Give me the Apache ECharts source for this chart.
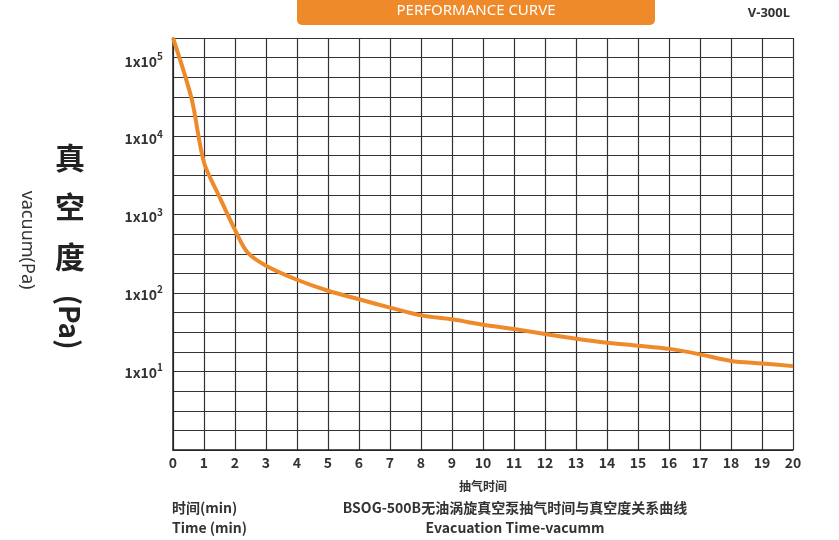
<!DOCTYPE html><html><head><meta charset="utf-8"><script src="https://cdn.jsdelivr.net/npm/echarts@6/dist/echarts.min.js"></script></head><body style="margin:0"><div id="c" style="width:839px;height:540px"></div><script>
const xs=[0,0.6,1,1.5,2,2.4,3,4,5,6,7,8,9,10,11,12,13,14,15,16,17,18,19,20];
const pa=[200000,33000,5000,1800,680,350,235,155,112,87,68,54,48,41,36,31,27,24,22,20,17,14,13,12];
const xTicks=[0,1,2,3,4,5,6,7,8,9,10,11,12,13,14,15,16,17,18,19,20];
const ch=echarts.init(document.getElementById('c'));
const f='"Noto Sans CJK SC",sans-serif';
ch.setOption({
 animation:false,
 grid:{left:173,right:46,top:38,bottom:90},
 xAxis:{type:'value',min:0,max:20,interval:1,axisLine:{lineStyle:{color:'#222',width:1.5}},axisTick:{show:false},
  axisLabel:{color:'#333',fontSize:14,fontWeight:'bold',fontFamily:f,margin:6},splitLine:{lineStyle:{color:'#333',width:1.2}}},
 yAxis:[{type:'log',min:1,max:200000,logBase:10,axisLine:{lineStyle:{color:'#222',width:1.5}},axisTick:{show:false},
  axisLabel:{showMaxLabel:false,fontFamily:f,fontSize:14,fontWeight:'bold',color:'#333',margin:10,
   formatter:v=>{const e=Math.round(Math.log10(v));return (e>=1&&e<=5&&v<150000)?'1x10{s|'+e+'}':'';},
   rich:{s:{fontSize:10,verticalAlign:'top',padding:[0,0,10,0],color:'#333',fontFamily:f}}},
  splitLine:{show:false}},
  {type:'value',min:0,max:21,interval:1,position:'left',axisLabel:{show:false},axisLine:{show:false},axisTick:{show:false},splitLine:{lineStyle:{color:'#333',width:1.2}}}],
 series:[{type:'line',data:xs.map((x,i)=>[x,pa[i]]),yAxisIndex:0,showSymbol:false,smooth:0.3,lineStyle:{color:'#ef8a2a',width:4}}],
 graphic:[
  {type:'rect',shape:{x:297,y:-6,width:358,height:31,r:5},style:{fill:'#ef8a2a'}},
  {type:'text',x:476,y:11,style:{text:'PERFORMANCE CURVE',fill:'#fff',font:'15px "Noto Sans",sans-serif',align:'center',verticalAlign:'middle'}},
  {type:'text',x:790,y:13,style:{text:'V-300L',fill:'#333',font:'bold 13px "Noto Sans",sans-serif',align:'right',verticalAlign:'middle'}},
  {type:'text',x:70,y:158,style:{text:'真',fill:'#222',font:'bold 30px '+f,align:'center',verticalAlign:'middle'}},
  {type:'text',x:70,y:207,style:{text:'空',fill:'#222',font:'bold 30px '+f,align:'center',verticalAlign:'middle'}},
  {type:'text',x:70,y:257,style:{text:'度',fill:'#222',font:'bold 30px '+f,align:'center',verticalAlign:'middle'}},
  {type:'text',x:70,y:322,rotation:-Math.PI/2,style:{text:'(Pa)',fill:'#222',font:'bold 28px '+f,align:'center',verticalAlign:'middle'}},
  {type:'text',x:27,y:240,rotation:-Math.PI/2,style:{text:'vacuum(Pa)',fill:'#333',font:'18px "Noto Sans",sans-serif',align:'center',verticalAlign:'middle'}},
  {type:'text',x:483,y:486,style:{text:'抽气时间',fill:'#333',font:'bold 12px '+f,align:'center',verticalAlign:'middle'}},
  {type:'text',x:172,y:508,style:{text:'时间(min)',fill:'#333',font:'bold 14px '+f,verticalAlign:'middle'}},
  {type:'text',x:172,y:528,style:{text:'Time (min)',fill:'#333',font:'bold 14px '+f,verticalAlign:'middle'}},
  {type:'text',x:515,y:508,style:{text:'BSOG-500B无油涡旋真空泵抽气时间与真空度关系曲线',fill:'#333',font:'bold 14px '+f,align:'center',verticalAlign:'middle'}},
  {type:'text',x:515,y:528,style:{text:'Evacuation Time-vacumm',fill:'#333',font:'bold 14px '+f,align:'center',verticalAlign:'middle'}}
 ]
});
</script></body></html>
